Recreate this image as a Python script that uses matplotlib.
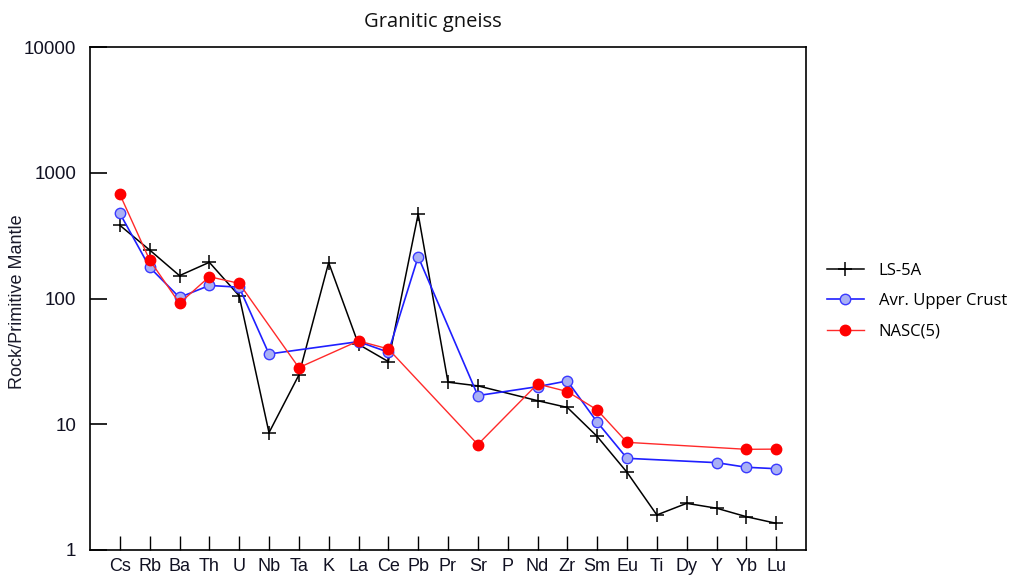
import numpy as np
import matplotlib.pyplot as plt

elements = ["Cs", "Rb", "Ba", "Th", "U", "Nb", "Ta", "K", "La", "Ce", "Pb", "Pr",
            "Sr", "P", "Nd", "Zr", "Sm", "Eu", "Ti", "Dy", "Y", "Yb", "Lu"]

# primitive-mantle normalised values, None where not analysed
ls_5a = [382, 243, 152, 194, 105, 8.57, 24.6, 193, 43.2, 31.5, 470, 21.6,
         20.2, None, 15.4, 13.6, 8.0, 4.15, 1.90, 2.35, 2.15, 1.84, 1.63]
upper_crust = [476, 177, 102, 127, 123, 36.2, None, None, 45.4, 37.4, 215, None,
               16.9, None, 19.9, 22.1, 10.4, 5.36, None, None, 4.95, 4.55, 4.43]
nasc = [674, 202, 91.6, 149, 132, None, 28.2, None, 46.0, 39.7, None, None,
        6.9, None, 20.9, 18.2, 13.0, 7.18, None, None, None, 6.32, 6.34]


def valid(values):
    idx = [i + 1 for i, v in enumerate(values) if v is not None]
    vals = [v for v in values if v is not None]
    return idx, vals


fig = plt.figure(figsize=(10.19, 5.76), dpi=100)
ax = fig.add_axes([90 / 1019, 26 / 576, 716 / 1019, 503 / 576])

x, y = valid(ls_5a)
ax.plot(x, y, color="black", lw=1.1, marker="+", ms=10, mew=1.1, label="LS-5A")
x, y = valid(upper_crust)
ax.plot(x, y, color="#1f1fff", lw=1.2, marker="o", ms=7.5, mfc="#a9b0f5",
        mec="#3a3aff", mew=1.0, label="Avr. Upper Crust")
x, y = valid(nasc)
ax.plot(x, y, color="#ff2a2a", lw=1.0, marker="o", ms=7.5, mfc="#ff0000",
        mec="#ff0000", label="NASC(5)")

ax.set_yscale("log")
ax.set_ylim(1, 10000)
ax.set_xlim(0, len(elements) + 1)
ax.set_yticks([1, 10, 100, 1000, 10000])
ax.set_yticklabels(["1", "10", "100", "1000", "10000"])
ax.yaxis.set_minor_locator(plt.NullLocator())
ax.set_xticks(np.arange(1, len(elements) + 1))
ax.set_xticklabels(elements)

ax.tick_params(axis="y", direction="in", length=12, width=1.2, pad=10,
               labelsize=13.5, labelcolor="#111122")
ax.tick_params(axis="x", direction="in", length=10, width=1.0, pad=6,
               labelsize=13, labelcolor="#111122")
for lab in ax.get_xticklabels() + ax.get_yticklabels():
    lab.set_family("Liberation Sans")
for spine in ax.spines.values():
    spine.set_linewidth(1.2)

fig.text(18 / 1019, 1 - 302 / 576, "Rock/Primitive Mantle", rotation=90,
         ha="center", va="center", fontsize=13, family="Liberation Sans",
         color="#1a1a2a")
fig.text(433 / 1019, 1 - 22 / 576, "Granitic gneiss", ha="center", va="center",
         fontsize=14.5, family="Open Sans", color="#111111")

fig.legend(loc="upper left", bbox_to_anchor=(812 / 1019, 1 - 248 / 576),
           frameon=False, prop={"family": "Open Sans", "size": 12},
           handlelength=2.2, labelspacing=0.85, handletextpad=0.9)

fig.savefig("out.png", dpi=100)
